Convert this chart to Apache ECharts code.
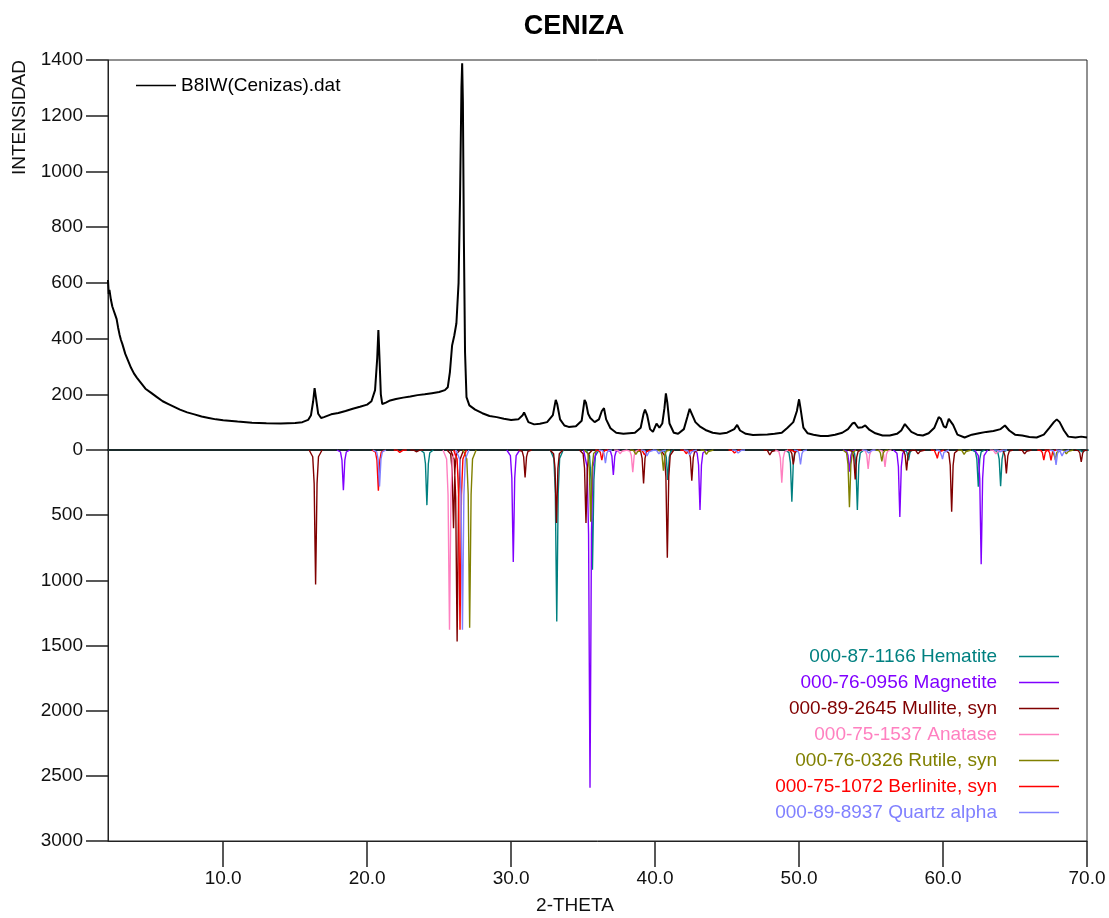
<!DOCTYPE html>
<html>
<head>
<meta charset="utf-8">
<script src="https://cdn.jsdelivr.net/npm/echarts@6/dist/echarts.min.js"></script>
<style>
html,body{margin:0;padding:0;background:#fff;}
#c{width:1109px;height:918px;}
</style>
</head>
<body>
<div id="c"></div>
<script>
// ---------- DATA ----------
const xTicks = [10, 20, 30, 40, 50, 60, 70];
const sampleName = 'B8IW(Cenizas).dat';
// measured pattern [2theta, intensity]
const measured = [
[2.0,610],[2.05,560],[2.1,575],[2.2,540],[2.3,515],[2.4,500],[2.5,485],[2.6,470],[2.7,440],[2.8,415],[2.9,395],[3.0,380],
[3.2,345],[3.4,320],[3.6,295],[3.8,275],[4.0,260],[4.3,240],[4.6,220],[5.0,205],[5.4,190],[5.8,175],[6.2,165],[6.6,155],
[7.0,145],[7.5,135],[8.0,128],[8.5,120],[9.0,115],[9.5,110],[10.0,107],[11.0,102],[12.0,98],[13.0,96],[14.0,95],[15.0,97],
[15.5,100],[15.9,108],[16.1,125],[16.25,175],[16.35,222],[16.45,185],[16.6,130],[16.8,115],[17.0,118],[17.5,128],[18.0,133],
[18.5,140],[19.0,148],[19.5,155],[20.0,163],[20.3,175],[20.55,215],[20.7,330],[20.78,431],[20.85,340],[20.95,200],[21.05,165],
[21.3,170],[21.6,178],[22.0,183],[22.5,188],[23.0,192],[23.5,197],[24.0,200],[24.5,204],[25.0,208],[25.4,215],[25.6,225],
[25.75,280],[25.9,375],[26.05,410],[26.2,455],[26.35,600],[26.45,900],[26.55,1300],[26.6,1388],[26.65,1250],[26.72,750],
[26.8,350],[26.9,190],[27.1,160],[27.5,145],[28.0,132],[28.5,122],[29.0,118],[29.5,112],[30.0,108],[30.5,110],[30.8,125],
[30.9,135],[31.0,128],[31.2,100],[31.6,92],[32.0,94],[32.5,100],[32.9,125],[33.1,180],[33.2,165],[33.4,110],[33.7,88],
[34.0,83],[34.5,85],[34.9,105],[35.1,180],[35.2,170],[35.35,130],[35.5,115],[35.8,100],[36.1,110],[36.3,140],[36.45,150],
[36.6,110],[36.9,78],[37.3,62],[37.8,58],[38.2,60],[38.6,62],[39.0,80],[39.2,130],[39.3,145],[39.45,125],[39.65,75],
[39.85,65],[40.1,95],[40.3,80],[40.5,95],[40.65,150],[40.75,203],[40.85,170],[41.0,95],[41.3,62],[41.6,58],[42.0,75],
[42.25,120],[42.4,148],[42.55,130],[42.8,100],[43.1,85],[43.5,72],[44.0,62],[44.5,58],[45.0,62],[45.5,75],[45.7,90],
[45.9,70],[46.3,58],[46.8,54],[47.3,55],[47.8,56],[48.3,58],[48.8,62],[49.2,80],[49.6,100],[49.85,140],[50.0,182],
[50.1,150],[50.3,80],[50.6,60],[51.0,55],[51.5,50],[52.0,50],[52.5,55],[53.0,62],[53.4,75],[53.7,95],[53.85,98],[54.1,80],
[54.4,82],[54.6,88],[54.9,72],[55.3,60],[55.8,52],[56.3,52],[56.8,58],[57.1,70],[57.35,93],[57.55,80],[57.8,65],[58.2,55],
[58.6,52],[59.0,60],[59.4,80],[59.7,118],[59.85,112],[60.05,85],[60.2,80],[60.4,112],[60.5,117],[60.7,90],[61.0,55],
[61.5,45],[62.0,55],[62.5,60],[63.0,65],[63.5,68],[64.0,75],[64.3,88],[64.4,93],[64.6,70],[65.0,55],[65.5,52],[66.0,47],
[66.5,45],[67.0,55],[67.4,80],[67.7,100],[67.9,110],[68.1,100],[68.4,70],[68.7,48],[69.2,45],[69.6,48],[70.0,45]
];
// reference phases: [2theta, intensity] (drawn downward)
const phaseNames = ['000-87-1166 Hematite','000-76-0956 Magnetite','000-89-2645 Mullite, syn','000-75-1537 Anatase','000-76-0326 Rutile, syn','000-75-1072 Berlinite, syn','000-89-8937 Quartz alpha'];
const hematite = [[24.15,423],[33.17,1315],[35.65,918],[40.88,230],[49.5,397],[54.05,461],[57.6,80],[62.45,282],[64.0,277],[69.7,20]];
const magnetite = [[18.35,308],[30.15,859],[35.48,2592],[37.1,192],[43.12,461],[53.5,167],[57.0,513],[62.65,877]];
const mullite = [[16.42,1031],[23.45,18],[26.0,600],[26.25,1469],[30.97,210],[33.15,560],[35.2,560],[39.2,256],[40.85,826],[42.55,236],[48.0,51],[49.6,110],[53.9,226],[57.47,157],[58.3,40],[60.6,474],[64.4,180],[65.7,40],[69.6,92]];
const anatase = [[25.72,1379],[37.6,38],[38.45,170],[48.8,250],[54.8,145],[55.97,130],[63.7,40]];
const rutile = [[27.12,1364],[35.53,550],[38.7,45],[40.58,158],[43.6,45],[53.5,440],[55.75,88],[61.5,45],[67.8,75],[68.6,40]];
const berlinite = [[20.78,313],[22.3,25],[26.45,1379],[36.3,77],[39.3,50],[42.2,38],[45.55,30],[49.7,20],[59.6,64],[67.0,78],[67.5,80]];
const quartz = [[20.86,280],[26.62,1379],[36.55,100],[39.47,60],[40.3,40],[42.45,50],[45.8,30],[50.1,110],[54.87,30],[59.96,70],[64.0,20],[67.85,115],[68.3,60]];
const phaseColors = ['#008080','#8000ff','#800000','#ff80c0','#808000','#ff0000','#8080ff'];

// ---------- BUILD ----------
// each stick peak is drawn as a narrow profile around its tip
function profile(peaks){
  const out = [];
  peaks.forEach(function(pk){
    const p = pk[0], h = pk[1];
    out.push([p-0.45,0],[p-0.2,h*0.05],[p-0.1,h*0.25],[p-0.035,h*0.75],[p,h],
             [p+0.035,h*0.75],[p+0.1,h*0.25],[p+0.2,h*0.05],[p+0.45,0],[p+0.45,'-']);
  });
  return out;
}
const phases = [hematite, magnetite, mullite, anatase, rutile, berlinite, quartz];
const FONT = 'Liberation Sans';
const plain = function(v){ return String(v); };

const chart = echarts.init(document.getElementById('c'));
const series = [{
  name: sampleName, type: 'line', xAxisIndex: 0, yAxisIndex: 0,
  data: measured, showSymbol: false, lineStyle: {color: '#000', width: 2}, itemStyle: {color: '#000'}, z: 5
}];
phases.forEach(function(ph, i){
  series.push({
    name: phaseNames[i], type: 'line', xAxisIndex: 1, yAxisIndex: 1,
    data: profile(ph), showSymbol: false, connectNulls: false,
    lineStyle: {color: phaseColors[i], width: 1.4}, itemStyle: {color: phaseColors[i]}
  });
});

chart.setOption({
  animation: false,
  textStyle: {fontFamily: FONT},
  graphic: [
    {type: 'text', x: 574, y: 27, style: {text: 'CENIZA', fontSize: 27, fontWeight: 'bold', fontFamily: FONT, fill: '#000', align: 'center', verticalAlign: 'middle'}},
    {type: 'text', x: 575, y: 906, style: {text: '2-THETA', fontSize: 19, fontFamily: FONT, fill: '#111', align: 'center', verticalAlign: 'middle'}},
    {type: 'text', x: 20, y: 60, rotation: Math.PI/2, style: {text: 'INTENSIDAD', fontSize: 19, fontFamily: FONT, fill: '#111', align: 'right', verticalAlign: 'middle'}}
  ],
  grid: [
    {left: 108, width: 979, top: 60, height: 390, show: true, borderColor: '#222', borderWidth: 1, containLabel: false},
    {left: 108, width: 979, top: 450, height: 391, show: true, borderColor: '#222', borderWidth: 1, containLabel: false}
  ],
  xAxis: [
    {type: 'value', gridIndex: 0, min: 2, max: 70, axisLine: {show: false, onZero: false}, axisTick: {show: false}, axisLabel: {show: false}, splitLine: {show: false}},
    {type: 'value', gridIndex: 1, min: 2, max: 70, position: 'bottom',
      axisLine: {show: true, onZero: false, lineStyle: {color: '#222', width: 1}},
      axisTick: {show: true, inside: false, length: 26, customValues: xTicks, lineStyle: {color: '#222', width: 1.5}},
      axisLabel: {show: true, customValues: xTicks, margin: 28, fontSize: 19, color: '#111', fontFamily: FONT,
        formatter: function(v){ return Number(v).toFixed(1); }},
      splitLine: {show: false}},
    {type: 'value', gridIndex: 1, min: 2, max: 70, position: 'top',
      axisLine: {show: true, onZero: false, lineStyle: {color: '#1a2a2a', width: 2}}, axisTick: {show: false}, axisLabel: {show: false}, splitLine: {show: false}}
  ],
  yAxis: [
    {type: 'value', gridIndex: 0, min: 0, max: 1400, interval: 200,
      axisLine: {show: true, onZero: false, lineStyle: {color: '#222'}},
      axisTick: {show: true, length: 22, lineStyle: {color: '#222', width: 1.5}},
      axisLabel: {margin: 25, fontSize: 19, color: '#111', fontFamily: FONT, showMinLabel: false, formatter: plain},
      splitLine: {show: false}},
    {type: 'value', gridIndex: 1, min: 0, max: 3000, interval: 500, inverse: true,
      axisLine: {show: true, onZero: false, lineStyle: {color: '#222'}},
      axisTick: {show: true, length: 22, lineStyle: {color: '#222', width: 1.5}},
      axisLabel: {margin: 25, fontSize: 19, color: '#111', fontFamily: FONT, formatter: plain},
      splitLine: {show: false}}
  ],
  legend: [
    {data: [sampleName], left: 136, top: 76, padding: 0, icon: 'rect', itemWidth: 40, itemHeight: 1.5,
      textStyle: {fontSize: 19, color: '#000', fontFamily: FONT}, selectedMode: false},
    {data: phaseNames.map(function(n, i){ return {name: n, textStyle: {color: phaseColors[i]}}; }),
      orient: 'vertical', align: 'right', right: 50, top: 647, padding: 0, icon: 'rect', itemWidth: 40, itemHeight: 1.5,
      itemGap: 7, textStyle: {fontSize: 19, fontFamily: FONT, padding: [0, 17, 0, 0]}, selectedMode: false}
  ],
  series: series
});
</script>
</body>
</html>
